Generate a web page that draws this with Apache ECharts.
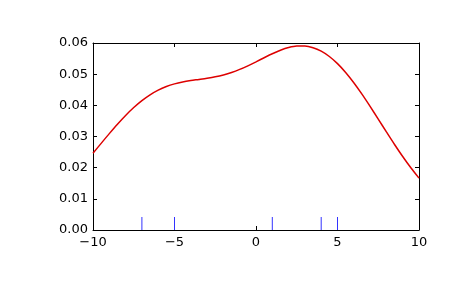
<!DOCTYPE html>
<html><head><meta charset="utf-8">
<script src="https://cdn.jsdelivr.net/npm/echarts@6/dist/echarts.min.js"></script>
<style>html,body{margin:0;padding:0;background:#fff}#c{width:465px;height:288px}</style>
</head><body><div id="c"></div>
<script>
const xs = [-10,-9.5,-9,-8.5,-8,-7.5,-7,-6.5,-6,-5.5,-5,-4.5,-4,-3.5,-3,-2.5,-2,-1.5,-1,-0.5,0,0.5,1,1.5,2,2.5,3,3.5,4,4.5,5,5.5,6,6.5,7,7.5,8,8.5,9,9.5,10];
const density = [0.02463,0.02780,0.03092,0.03393,0.03675,0.03929,0.04151,0.04338,0.04488,0.04604,0.04689,0.04750,0.04795,0.04831,0.04869,0.04915,0.04976,0.05054,0.05152,0.05268,0.05396,0.05528,0.05655,0.05767,0.05853,0.05901,0.05902,0.05849,0.05738,0.05567,0.05338,0.05055,0.04725,0.04359,0.03966,0.03558,0.03148,0.02744,0.02358,0.01996,0.01664];
const rugX = [-7,-5,1,4,5];
const xTicks = [-10,-5,0,5,10];
const yTicks = [0,0.01,0.02,0.03,0.04,0.05,0.06];

const chart = echarts.init(document.getElementById('c'), null, {renderer:'canvas'});
const font = {fontFamily:'DejaVu Sans', fontSize:13, color:'#000'};
const fmtX = v => (v<0 ? '\u2212'+Math.abs(v) : String(v));
const axisCommon = {
  axisLine:{show:true, onZero:false, lineStyle:{color:'#000', width:1}},
  axisTick:{show:true, inside:true, length:4, lineStyle:{color:'#000', width:1}},
  splitLine:{show:false}
};
chart.setOption({
  animation:false,
  grid:{left:93, right:46, top:43, bottom:58, containLabel:false},
  xAxis:[
    Object.assign({type:'value', min:-10, max:10, interval:5, position:'bottom',
      axisLabel:Object.assign({margin:6, formatter:fmtX}, font)}, axisCommon),
    Object.assign({type:'value', min:-10, max:10, interval:5, position:'top',
      axisLabel:{show:false}}, axisCommon)
  ],
  yAxis:[
    Object.assign({type:'value', min:0, max:0.06, interval:0.01, position:'left',
      axisLabel:Object.assign({margin:5, formatter:v=>v.toFixed(2)}, font)}, axisCommon),
    Object.assign({type:'value', min:0, max:0.06, interval:0.01, position:'right',
      axisLabel:{show:false}}, axisCommon)
  ],
  series:[
    {type:'line', xAxisIndex:0, yAxisIndex:0, data:xs.map((x,i)=>[x,density[i]]),
     showSymbol:false, smooth:0.3, lineStyle:{color:'#dd0000', width:1.5}, z:3},
    {type:'custom', xAxisIndex:0, yAxisIndex:0, data:rugX.map(x=>[x,0]),
     renderItem:function(params, api){
       const p = api.coord([api.value(0), 0]);
       return {type:'line', shape:{x1:p[0], y1:p[1], x2:p[0], y2:p[1]-13},
         style:{stroke:'#3333ff', lineWidth:1}};
     }, z:2}
  ]
});
</script></body></html>
